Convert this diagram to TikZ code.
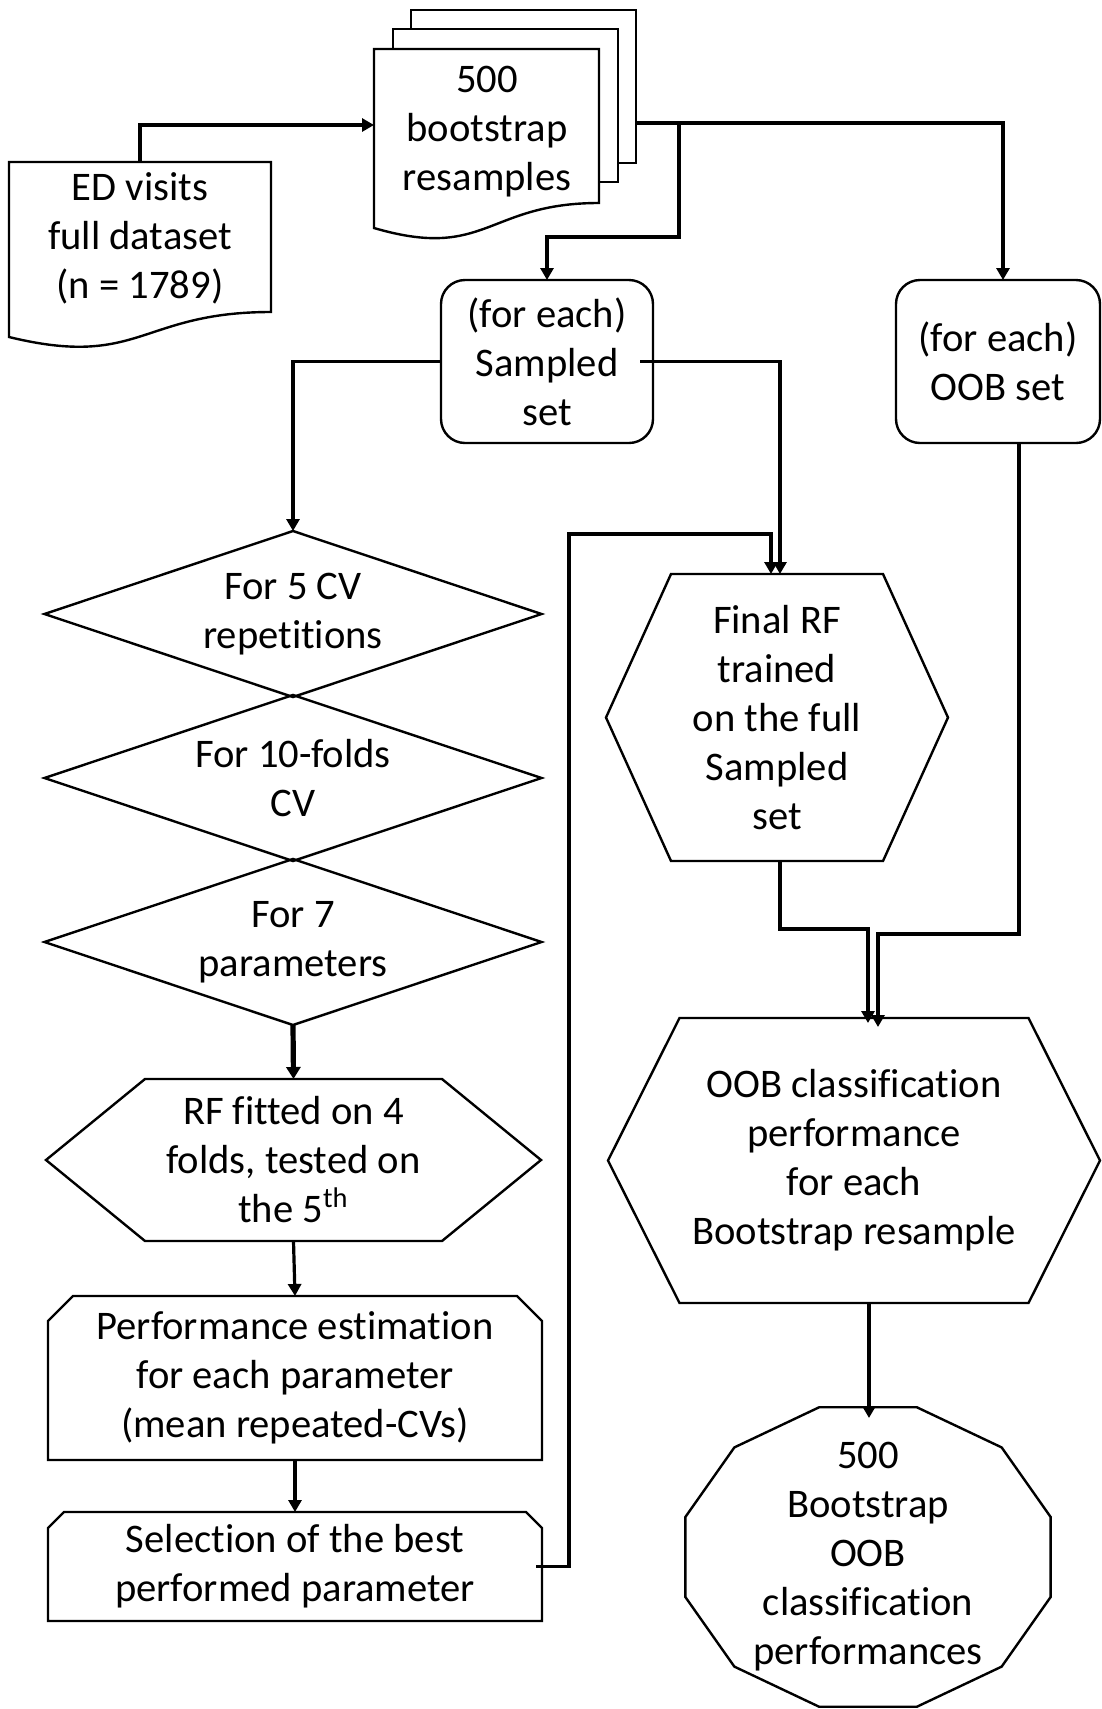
\documentclass[tikz,border=0pt]{standalone}
\usepackage{fontspec}
\setmainfont[Ligatures=NoCommon]{Carlito}
\usetikzlibrary{arrows.meta,calc}
\begin{document}
\begin{tikzpicture}[x=0.5pt,y=-0.5pt,
  every node/.style={inner sep=0pt, outer sep=0pt},
  lbl/.style={align=center, font=\fontsize{20.3}{24.5}\selectfont},
  outline/.style={draw=black, line width=1.2pt, line join=miter},
  link/.style={line width=1.6pt},
  conn/.style={link, -{Triangle[length=6pt,width=6.5pt]}},
  heavy/.style={line width=2.6pt, -{Triangle[length=6pt,width=7pt]}},
]
\useasboundingbox (0,0) rectangle (1102,1709);

% ---------- input data set (document shape) ----------
\node[minimum width=131pt, minimum height=87.5pt] (ed) at (140,249.5) {};
\draw[outline] (ed.north west) -- (ed.north east) -- ($(ed.north east)+(0,150)$)
  .. controls ($(ed.north)+(0,150)$) and ($(ed.north)+(0,207)$) .. (ed.south west) -- cycle;
\node[lbl] (edtext) at (140,238) {ED visits\\full dataset\\(n = 1789)};

% ---------- stack of bootstrap resamples ----------
\node[minimum width=112.5pt, minimum height=89.5pt] (boot) at (486.5,138.5) {};
\draw[outline] ($(boot.north west)+(37,-20)$) -- ++(0,-19) -- ++(225,0) -- ++(0,153) -- ++(-18,0);
\draw[outline] ($(boot.north west)+(19,0)$) -- ++(0,-20) -- ++(225,0) -- ++(0,153) -- ++(-19,0);
\draw[outline] (boot.north west) -- (boot.north east) -- ($(boot.north east)+(0,154)$)
  .. controls ($(boot.north)+(0,154)$) and ($(boot.north)+(0,212)$) .. (boot.south west) -- cycle;
\node[lbl] (boottext) at (487,132) {500\\bootstrap\\resamples};

% ---------- per-resample sets ----------
\node[lbl, outline, rounded corners=12pt, minimum width=106pt, minimum height=81.5pt]
  (samp) at (547,361.5) {(for each)\\Sampled\\set};
\node[lbl, outline, rounded corners=12pt, minimum width=102pt, minimum height=81.5pt]
  (oob) at (998,361.5) {(for each)\\OOB set};

% ---------- nested CV loops ----------
\node[lbl, minimum width=248.5pt, minimum height=83pt] (d1) at (293,614) {For 5 CV\\repetitions};
\node[lbl, minimum width=248.5pt, minimum height=83pt] (d2) at (293,778) {For 10-folds\\CV};
\node[lbl, minimum width=248.5pt, minimum height=83pt] (d3) at (293,942) {For 7\\parameters};
\foreach \d in {d1,d2,d3}
  \draw[outline] (\d.north) -- (\d.east) -- (\d.south) -- (\d.west) -- cycle;

\node[lbl, minimum width=247.5pt, minimum height=81pt] (rf) at (293.5,1160)
  {RF fitted on 4\\folds, tested on\\the 5\textsuperscript{th}};
\draw[outline] (rf.west) -- ($(rf.north west)+(99,0)$) -- ($(rf.north east)+(-99,0)$) -- (rf.east)
  -- ($(rf.south east)+(-99,0)$) -- ($(rf.south west)+(99,0)$) -- cycle;

\node[lbl, minimum width=247pt, minimum height=82pt] (perf) at (295,1378)
  {Performance estimation\\for each parameter\\(mean repeated-CVs)};
\draw[outline] ($(perf.north west)+(0,25)$) -- ($(perf.north west)+(25,0)$) -- ($(perf.north east)+(-25,0)$)
  -- ($(perf.north east)+(0,25)$) -- (perf.south east) -- (perf.south west) -- cycle;

\node[lbl, minimum width=247pt, minimum height=54.5pt] (sel) at (295,1566.5)
  {Selection of the best\\performed parameter};
\draw[outline] ($(sel.north west)+(0,16)$) -- ($(sel.north west)+(16,0)$) -- ($(sel.north east)+(-16,0)$)
  -- ($(sel.north east)+(0,16)$) -- (sel.south east) -- (sel.south west) -- cycle;

% ---------- final model and OOB evaluation ----------
\node[lbl, minimum width=171pt, minimum height=143.5pt] (final) at (777,717.5)
  {Final RF\\trained\\on the full\\Sampled\\set};
\draw[outline] (final.west) -- ($(final.north west)+(65,0)$) -- ($(final.north east)+(-65,0)$) -- (final.east)
  -- ($(final.south east)+(-65,0)$) -- ($(final.south west)+(65,0)$) -- cycle;

\node[lbl, minimum width=246pt, minimum height=142.5pt] (oobperf) at (854,1160.5)
  {OOB classification\\performance\\for each\\Bootstrap resample};
\draw[outline] (oobperf.west) -- ($(oobperf.north west)+(71.5,0)$) -- ($(oobperf.north east)+(-71.5,0)$) -- (oobperf.east)
  -- ($(oobperf.south east)+(-71.5,0)$) -- ($(oobperf.south west)+(71.5,0)$) -- cycle;

\node[lbl, minimum width=189pt, minimum height=153pt] (res) at (868,1557)
  {500\\Bootstrap\\OOB\\classification\\performances};
\draw[outline] ($(res.center)+(15:189 and 155)$)
  \foreach \a in {45,75,...,345} { -- ($(res.center)+(\a:189 and 155)$) } -- cycle;

% ---------- connectors ----------
\draw[conn] (ed.north) |- ($(boot.north west)+(0,76)$);
\coordinate (split) at ($(boot.north east)+(80,74)$);
\draw[conn] ($(boot.north east)+(37,74)$) -| ($(oob.north)+(5,0)$);
\draw[conn] (split) |- ($(samp.north)+(0,-43)$) -- (samp.north);

\draw[conn] (samp.west) -| (d1.north);
\draw[conn] ($(samp.east)+(-13,0)$) -| ($(final.north)+(3,0)$);

\draw[heavy] (d3.south) -- (rf.north);
\draw[conn] (rf.south) -- (perf.north);
\draw[conn] (perf.south) -- (sel.north);
\draw[conn] ($(sel.east)+(-6,0)$) -- ++(33,0) |- ($(final.north)+(-6,-40)$) -- ($(final.north)+(-6,0)$);

\draw[conn] ($(final.south)+(3,0)$) |- ($(oobperf.north)+(14,-89)$) -- ($(oobperf.north)+(14,5)$);
\draw[conn] ($(oob.south)+(21,0)$) |- ($(oobperf.north)+(24,-84)$) -- ($(oobperf.north)+(24,9)$);
\draw[conn] ($(oobperf.south)+(15,0)$) -- ($(res.north)+(1,14)$);
\end{tikzpicture}
\end{document}
